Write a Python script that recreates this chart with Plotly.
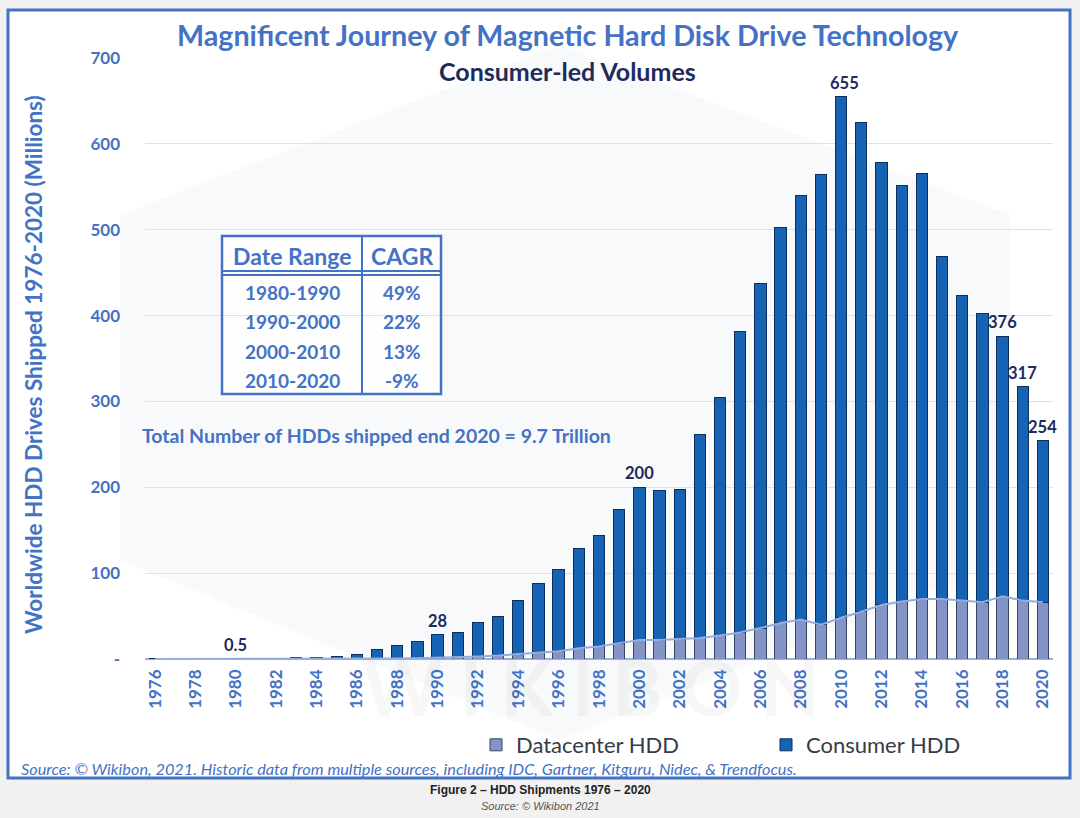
import plotly.graph_objects as go

# ---------------- data ----------------
years = list(range(1976, 2021))
datacenter_hdd = [0, 0, 0, 0, 0, 0, 0, 0,
                  0.1, 0.2, 0.3, 0.5, 0.7, 1.0,
                  1.5, 2, 3, 4, 5.5, 7.5, 9, 12.5, 14.5, 18.5,
                  22, 22, 23, 24.5, 27.5, 31, 36, 42, 46, 40,
                  48, 55, 63, 67, 70, 70, 68, 66, 73, 68, 66]
consumer_hdd = [0.02, 0.05, 0.1, 0.3, 0.5, 0.7, 0.9, 1.2,
                1.7, 2.5, 4.7, 10.5, 14.8, 19.0,
                26.5, 29, 39, 45, 62.5, 80.5, 95, 116.5, 129.5, 155.5,
                178, 174, 175, 237.5, 277.5, 350, 401, 461, 494, 524,
                607, 570, 515, 485, 495, 399, 355, 337, 303, 249, 188]
label_years = [1980, 1990, 2000, 2010, 2018, 2019, 2020]
label_texts = ["0.5", "28", "200", "655", "376", "317", "254"]
y_tickvals = [0, 100, 200, 300, 400, 500, 600, 700]
y_ticktext = ["-", "100", "200", "300", "400", "500", "600", "700"]
x_tickvals = list(range(1976, 2021, 2))
cagr_ranges = ["1980-1990", "1990-2000", "2000-2010", "2010-2020"]
cagr_values = ["49%", "22%", "13%", "-9%"]

# ---------------- layout helpers (pixel -> paper) ----------------
W, H = 1080, 818
L, R, T, B = 145, 1053, 58, 659
PW, PH = R - L, B - T


def px(x):
    return (x - L) / PW


def py(y):
    return (B - y) / PH


BLUE = "#4472c4"
NAVY = "#1f2a5c"
FONT = "Lato"

fig = go.Figure()

fig.add_trace(go.Bar(
    x=years, y=datacenter_hdd, name="Datacenter HDD",
    marker=dict(color="#8494c6", line=dict(color="#3a4563", width=1)),
))
fig.add_trace(go.Bar(
    x=years, y=consumer_hdd, name="Consumer HDD",
    marker=dict(color="#1763b3", line=dict(color="#0b2f5e", width=1)),
))
fig.add_trace(go.Scatter(
    x=years, y=datacenter_hdd, mode="lines", showlegend=False,
    line=dict(color="#93ade0", width=2), hoverinfo="skip",
))

totals = {yr: d + c for yr, d, c in zip(years, datacenter_hdd, consumer_hdd)}
annotations = []
for yr, txt in zip(label_years, label_texts):
    annotations.append(dict(
        x=yr, y=totals[yr], xref="x", yref="y", text=txt, showarrow=False,
        yanchor="bottom", yshift=2, xshift=3 if yr == 2010 else 0,
        font=dict(family=FONT, size=16.5, color=NAVY, weight="bold"),
    ))


def ann(x, y, text, size, color=BLUE, bold=True, italic=False, xanchor="center",
        family=FONT, angle=0):
    annotations.append(dict(
        x=px(x), y=py(y), xref="paper", yref="paper", text=text, showarrow=False,
        xanchor=xanchor, yanchor="middle", textangle=angle,
        font=dict(family=family, size=size, color=color,
                  weight="bold" if bold else "normal",
                  style="italic" if italic else "normal"),
    ))


# watermark text (drawn first so other texts sit above it)
annotations.append(dict(
    x=px(590), y=py(686), xref="paper", yref="paper", text="W I K I B O N",
    showarrow=False, xanchor="center", yanchor="middle",
    font=dict(family=FONT, size=76, color="rgba(0,0,0,0.03)", weight="bold"),
))
# titles
ann(568, 35, "Magnificent Journey of Magnetic Hard Disk Drive Technology", 28.7)
ann(567, 71, "Consumer-led Volumes", 25, color=NAVY)
# axis title
ann(33, 365, "Worldwide HDD Drives Shipped 1976-2020 (Millions)", 22.5, angle=-90)
# total text
ann(140, 435, "Total Number of HDDs shipped end 2020 = 9.7 Trillion", 19.5, xanchor="left")
# source
ann(19, 768, "Source: © Wikibon, 2021. Historic data from multiple sources, including IDC, Gartner, Kitguru, Nidec, &amp; Trendfocus.",
    16.3, bold=False, italic=True, xanchor="left")
# figure captions below card
ann(540, 790, "Figure 2 – HDD Shipments 1976 – 2020", 12, color="#222222",
    family="Liberation Sans Narrow, Arial Narrow, Liberation Sans")
ann(540, 806, "Source: © Wikibon 2021", 11, color="#555555", bold=False, italic=True,
    family="Liberation Sans Narrow, Arial Narrow, Liberation Sans")

# table text
ann(292, 256, "Date Range", 23)
ann(402, 256, "CAGR", 23)
row_y = [292, 321, 351, 380]
for ry, rng, val in zip(row_y, cagr_ranges, cagr_values):
    ann(292, ry, rng, 19)
    ann(402, ry, val, 19)

shapes = []
# card
shapes.append(dict(type="rect", xref="paper", yref="paper", layer="below",
                   x0=px(8), x1=px(1070), y0=py(10), y1=py(778),
                   fillcolor="white", line=dict(color=BLUE, width=3)))
# hexagon watermark
hx = [560, 1010, 1010, 560, 120, 120]
hy = [45, 215, 560, 740, 560, 215]
path = "M " + " L ".join(f"{px(a)},{py(b)}" for a, b in zip(hx, hy)) + " Z"
shapes.append(dict(type="path", xref="paper", yref="paper", layer="below",
                   path=path, fillcolor="#f8f9fb", line=dict(width=0)))
# table
shapes.append(dict(type="rect", xref="paper", yref="paper", layer="below",
                   x0=px(222), x1=px(441), y0=py(236), y1=py(394),
                   fillcolor="rgba(255,255,255,0.85)", line=dict(width=0)))
shapes.append(dict(type="rect", xref="paper", yref="paper", layer="above",
                   x0=px(222), x1=px(441), y0=py(236), y1=py(394),
                   fillcolor="rgba(255,255,255,0)", line=dict(color=BLUE, width=2.5)))
shapes.append(dict(type="line", xref="paper", yref="paper",
                   x0=px(362), x1=px(362), y0=py(236), y1=py(394),
                   line=dict(color=BLUE, width=2)))
for yy in (271, 275):
    shapes.append(dict(type="line", xref="paper", yref="paper",
                       x0=px(222), x1=px(441), y0=py(yy), y1=py(yy),
                       line=dict(color=BLUE, width=2)))

fig.update_layout(
    width=W, height=H,
    margin=dict(l=L, r=W - R, t=T, b=H - B, autoexpand=False),
    paper_bgcolor="#f1f1f1", plot_bgcolor="rgba(0,0,0,0)",
    barmode="stack", bargap=0.44,
    annotations=annotations, shapes=shapes,
    xaxis=dict(range=[1975.5, 2020.5], tickmode="array", tickvals=x_tickvals,
               tickangle=-90, showgrid=False, ticks="", automargin=False,
               tickfont=dict(family=FONT, size=17, color=BLUE, weight="bold"),
               ticklabelstandoff=6),
    yaxis=dict(range=[0, 700], tickmode="array", tickvals=y_tickvals,
               ticktext=y_ticktext, showgrid=True, gridcolor="#dde2ea", gridwidth=1,
               zeroline=True, zerolinecolor="#98b0de", zerolinewidth=2, automargin=False,
               tickfont=dict(family=FONT, size=17, color=BLUE, weight="bold"),
               ticklabelstandoff=24),
    legend=dict(orientation="h", x=px(476), y=py(724), xanchor="left", yanchor="top",
                font=dict(family=FONT, size=22, color="#363b48"),
                entrywidth=245, entrywidthmode="pixels", tracegroupgap=0,
                bgcolor="rgba(0,0,0,0)", traceorder="normal"),
    showlegend=True,
)

fig.write_html("out.html")
